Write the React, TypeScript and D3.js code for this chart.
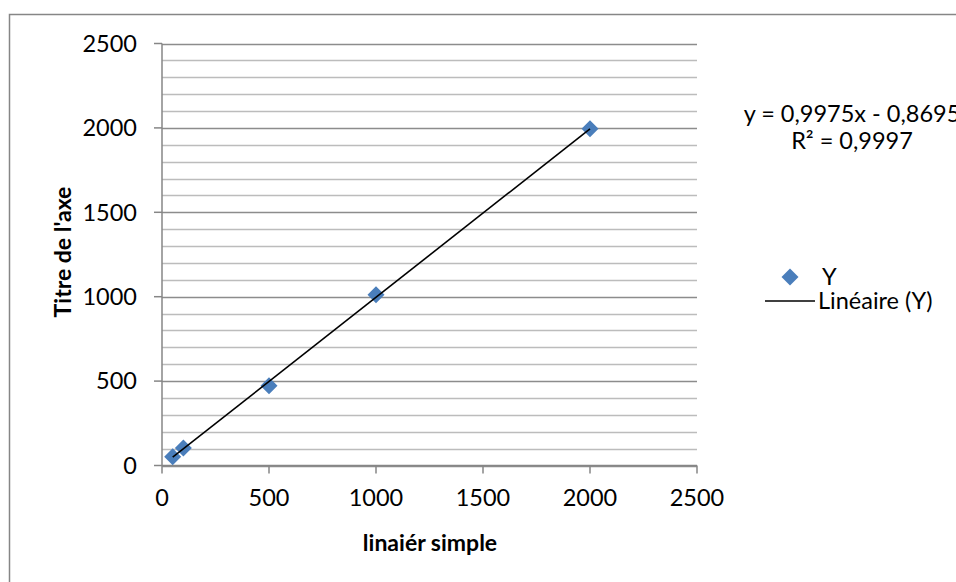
import React from "react";
import * as d3 from "d3";

const xValues = [50, 100, 500, 1000, 2000];
const yValues = [52, 103, 472, 1011, 1995];
const tickValues = [0, 500, 1000, 1500, 2000, 2500];
const slope = 0.9975;
const intercept = -0.8695;
const equationText = "y = 0,9975x - 0,8695";
const r2Text = "R² = 0,9997";
const xTitle = "linaiér simple";
const yTitle = "Titre de l'axe";
const seriesName = "Y";
const trendName = "Linéaire (Y)";

const W = 956;
const H = 582;
const FONT = "Lato, 'Open Sans', sans-serif";

export default function App() {
  const x = d3.scaleLinear().domain([0, 2500]).range([162, 697]);
  const y = d3.scaleLinear().domain([0, 2500]).range([465.5, 43.5]);
  const minor = d3.range(0, 2501, 100);
  const xMin = d3.min(xValues) as number;
  const xMax = d3.max(xValues) as number;
  const trend = d3.line<number>().x((v) => x(v)).y((v) => y(slope * v + intercept));
  const diamond = (cx: number, cy: number, r: number) =>
    `M${cx},${cy - r}L${cx + r},${cy}L${cx},${cy + r}L${cx - r},${cy}Z`;
  const fs = 23.5;

  return (
    <svg
      width={W}
      height={H}
      style={{ position: "absolute", left: 0, top: 0, background: "#fff" }}
      fontFamily={FONT}
    >
      <rect x={9.5} y={14.5} width={1000} height={1000} fill="#fff" stroke="#868686" strokeWidth={1.5} />
      {minor.map((v) => (
        <line
          key={"g" + v}
          x1={x(0)}
          x2={x(2500)}
          y1={Math.round(y(v)) + 0.5}
          y2={Math.round(y(v)) + 0.5}
          stroke={v % 500 === 0 ? "#8c8c8c" : "#bcbcbc"}
          strokeWidth={v % 500 === 0 ? 1.5 : 1.3}
        />
      ))}
      {/* y axis */}
      <line x1={x(0)} x2={x(0)} y1={y(2500)} y2={y(0)} stroke="#868686" strokeWidth={1.5} />
      {tickValues.map((v) => (
        <line key={"yt" + v} x1={x(0) - 8} x2={x(0)} y1={y(v)} y2={y(v)} stroke="#868686" strokeWidth={1.5} />
      ))}
      {/* x axis */}
      <line x1={x(0)} x2={x(2500)} y1={y(0)} y2={y(0)} stroke="#868686" strokeWidth={1.5} />
      {tickValues.map((v) => (
        <line key={"xt" + v} x1={x(v)} x2={x(v)} y1={y(0)} y2={y(0) + 8} stroke="#868686" strokeWidth={1.5} />
      ))}
      {tickValues.map((v) => (
        <text key={"yl" + v} x={137} y={y(v)} dy="0.35em" textAnchor="end" fontSize={fs} fill="#000">
          {v}
        </text>
      ))}
      {tickValues.map((v) => (
        <text key={"xl" + v} x={x(v)} y={498} dy="0.35em" textAnchor="middle" fontSize={fs} fill="#000">
          {v}
        </text>
      ))}
      <text x={430} y={543} dy="0.35em" textAnchor="middle" fontSize={23} fontWeight="bold">
        {xTitle}
      </text>
      <text
        transform={`translate(63,252) rotate(-90)`}
        dy="0.35em"
        textAnchor="middle"
        fontSize={23}
        fontWeight="bold"
      >
        {yTitle}
      </text>
      {xValues.map((v, i) => (
        <path key={"p" + i} d={diamond(x(v), y(yValues[i]), 8.5)} fill="#4a7ebb" />
      ))}
      <path d={trend([xMin, xMax]) || ""} stroke="#000" strokeWidth={1.6} fill="none" />
      <text x={852} y={114} dy="0.35em" textAnchor="middle" fontSize={fs}>
        {equationText}
      </text>
      <text x={852} y={141} dy="0.35em" textAnchor="middle" fontSize={fs}>
        {r2Text}
      </text>
      {/* legend */}
      <path d={diamond(790, 277, 8.5)} fill="#4a7ebb" />
      <text x={822} y={277} dy="0.35em" fontSize={fs}>
        {seriesName}
      </text>
      <line x1={765} x2={815} y1={301} y2={301} stroke="#000" strokeWidth={1.6} />
      <text x={818} y={301} dy="0.35em" fontSize={fs}>
        {trendName}
      </text>
    </svg>
  );
}
